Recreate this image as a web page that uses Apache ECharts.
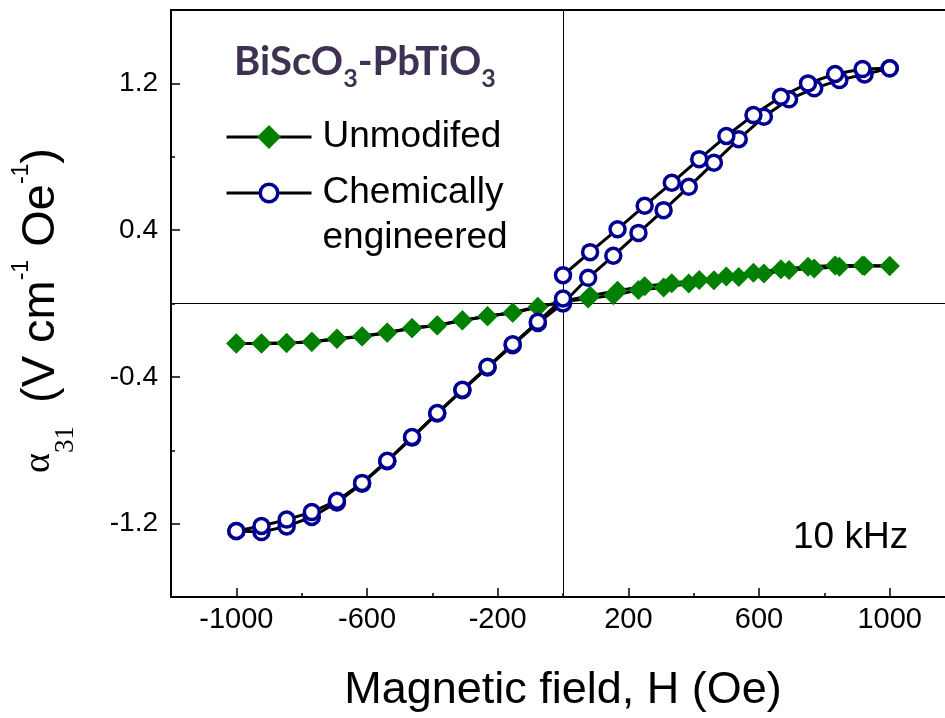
<!DOCTYPE html>
<html>
<head>
<meta charset="utf-8">
<script src="https://cdn.jsdelivr.net/npm/echarts@6/dist/echarts.min.js"></script>
<style>
  html, body { margin: 0; padding: 0; background: #fff; overflow: hidden; }
  /* the frame runs past the right edge of the window, as in the original figure */
  #chart { width: 960px; height: 718px; }
</style>
</head>
<body>
<div id="chart"></div>
<script>
// Field values (Oe) of each sweep segment
const hSweepUp = [-1000, -923, -846, -769, -692, -615, -538, -462, -385, -308, -231, -154, -77, 0,
    77, 154, 231, 308, 385, 462, 538, 615, 692, 769, 846, 923, 1000];
const hReturnPos = [1000, 917, 833, 750, 667, 583, 500, 417, 333, 250, 167, 83, 0];
const hReturnNeg = [0, -77, -154, -231, -308, -385, -462, -538, -615, -692, -769, -846, -923, -1000];

// alpha_31 (V cm^-1 Oe^-1), unmodified sample
const unmodUp = [-0.218, -0.218, -0.215, -0.209, -0.191, -0.178, -0.158, -0.133, -0.118, -0.091, -0.069, -0.049, -0.018, 0.009,
    0.027, 0.045, 0.073, 0.087, 0.109, 0.127, 0.145, 0.164, 0.182, 0.191, 0.2, 0.205, 0.205];
const unmodReturnPos = [0.205, 0.207, 0.207, 0.2, 0.187, 0.168, 0.147, 0.128, 0.11, 0.094, 0.069, 0.042, 0.012];
const unmodReturnNeg = [0.009, -0.02, -0.05, -0.07, -0.093, -0.12, -0.135, -0.16, -0.18, -0.193, -0.21, -0.216, -0.218, -0.218];

// alpha_31, chemically engineered sample
const chemUp = [-1.24, -1.246, -1.215, -1.164, -1.085, -0.982, -0.86, -0.731, -0.6, -0.473, -0.349, -0.227, -0.106, 0.0,
    0.14, 0.26, 0.385, 0.509, 0.636, 0.767, 0.896, 1.018, 1.113, 1.173, 1.218, 1.249, 1.282];
const chemReturnPos = [1.282, 1.278, 1.251, 1.2, 1.127, 1.027, 0.913, 0.787, 0.658, 0.533, 0.405, 0.28, 0.154];
const chemReturnNeg = [0.027, -0.1, -0.222, -0.345, -0.47, -0.597, -0.728, -0.857, -0.978, -1.075, -1.137, -1.178, -1.213, -1.24];

const xMajorTicks = [-1000, -600, -200, 200, 600, 1000];
const xMinorTicks = [-800, -400, 0, 400, 800];
const yMajorTicks = [-1.2, -0.4, 0.4, 1.2];
const yMinorTicks = [-0.8, 0, 0.8];

const zip = (xs, ys) => xs.map((x, i) => [x, ys[i]]);

const GREEN = '#008000';
const NAVY = '#000090';
const FONT = '"Liberation Sans", Arial, sans-serif';
const SERIF = '"Liberation Serif", serif';

const chart = echarts.init(document.getElementById('chart'));

const unmodSeries = (data, withZeroLines) => {
    const s = {
        name: 'Unmodifed',
        type: 'line',
        data: data,
        symbol: 'diamond',
        symbolSize: 20,
        itemStyle: {color: GREEN},
        lineStyle: {color: '#000', width: 3},
        z: 3
    };
    if (withZeroLines) {
        s.markLine = {
            silent: true,
            symbol: ['none', 'none'],
            label: {show: false},
            lineStyle: {color: '#000', width: 1, type: 'solid'},
            data: [{xAxis: 0}, {yAxis: 0}],
            z: 1
        };
    }
    return s;
};

const chemSeries = (data) => ({
    name: 'Chemically engineered',
    type: 'line',
    data: data,
    symbol: 'circle',
    symbolSize: 15,
    itemStyle: {color: '#fff', borderColor: NAVY, borderWidth: 3.5},
    lineStyle: {color: '#000', width: 3},
    z: 4
});

const legendText = {
    fontFamily: FONT,
    fontSize: 37,
    color: '#000',
    lineHeight: 45,
    padding: [0, 0, 0, 6]
};

const legendBase = {
    left: 225,
    padding: 0,
    itemWidth: 85,
    itemHeight: 24,
    lineStyle: {color: '#000', width: 3}
};

const option = {
    animation: false,
    backgroundColor: '#fff',
    grid: {left: 171, right: 5, top: 10, bottom: 121},
    title: {
        left: 229,
        top: 37,
        text: '{b|BiScO}{s|3}{b|-PbTiO}{s|3}',
        textStyle: {
            rich: {
                b: {fontFamily: 'Lato', fontWeight: 'bold', fontSize: 40, color: '#3f3151', lineHeight: 40, verticalAlign: 'top'},
                s: {fontFamily: 'Lato', fontWeight: 'bold', fontSize: 25, color: '#3f3151', lineHeight: 25, verticalAlign: 'top', padding: [24, 0, 0, 0]}
            }
        }
    },
    legend: [
        Object.assign({}, legendBase, {
            data: ['Unmodifed'],
            top: 114.5,
            itemHeight: 30,
            textStyle: legendText
        }),
        Object.assign({}, legendBase, {
            data: ['Chemically engineered'],
            top: 125.5,
            itemHeight: 22,
            itemStyle: {borderWidth: 3.5},
            formatter: () => '{e| }\n{t|Chemically}\n{t|engineered}',
            textStyle: Object.assign({}, legendText, {
                rich: {
                    e: {fontFamily: FONT, fontSize: 37, lineHeight: 45},
                    t: {fontFamily: FONT, fontSize: 37, lineHeight: 45, color: '#000'}
                }
            })
        })
    ],
    graphic: [{
        type: 'text',
        left: 793,
        top: 519,
        style: {text: '10 kHz', font: '37px ' + FONT, fill: '#000'}
    }],
    xAxis: [
        {
            type: 'value', min: -1200, max: 1200, position: 'bottom',
            name: 'Magnetic field, H (Oe)',
            nameLocation: 'middle',
            nameGap: 71,
            nameTextStyle: {fontFamily: FONT, fontSize: 45, color: '#000'},
            axisLine: {show: true, onZero: false, lineStyle: {color: '#000', width: 2}},
            axisTick: {show: true, inside: true, length: 9, customValues: xMajorTicks, lineStyle: {color: '#000', width: 1.5}},
            axisLabel: {customValues: xMajorTicks, margin: 8, fontFamily: FONT, fontSize: 29, color: '#000',
                formatter: (v) => String(v)},
            splitLine: {show: false}
        },
        {
            type: 'value', min: -1200, max: 1200, position: 'bottom',
            axisLine: {show: false, onZero: false},
            axisTick: {show: true, inside: true, length: 4, customValues: xMinorTicks, lineStyle: {color: '#000', width: 1.5}},
            axisLabel: {show: false},
            splitLine: {show: false}
        },
        {
            type: 'value', min: -1200, max: 1200, position: 'top',
            axisLine: {show: true, onZero: false, lineStyle: {color: '#000', width: 2}},
            axisTick: {show: false},
            axisLabel: {show: false},
            splitLine: {show: false}
        }
    ],
    yAxis: [
        {
            type: 'value', min: -1.6, max: 1.6, position: 'left',
            name: '{a|α}{s|31}{b| (V cm}{p|-1}{b| Oe}{p|-1}{c|)}',
            nameLocation: 'middle',
            nameRotate: 90,
            nameGap: 114,
            nameTextStyle: {
                rich: {
                    a: {fontFamily: SERIF, fontSize: 38, lineHeight: 38, verticalAlign: 'top', padding: [10, 0, 0, 0], color: '#000'},
                    s: {fontFamily: SERIF, fontSize: 27, lineHeight: 27, verticalAlign: 'top', padding: [42, 10, 0, 0], color: '#000'},
                    b: {fontFamily: FONT, fontSize: 47, lineHeight: 47, verticalAlign: 'top', padding: [8, 0, 0, 0], color: '#000'},
                    c: {fontFamily: FONT, fontSize: 47, lineHeight: 47, verticalAlign: 'top', padding: [8, 14, 0, 0], color: '#000'},
                    p: {fontFamily: FONT, fontSize: 23, lineHeight: 23, verticalAlign: 'top', padding: [0, 0, 0, 0], color: '#000'}
                }
            },
            axisLine: {show: true, onZero: false, lineStyle: {color: '#000', width: 2}},
            axisTick: {show: true, inside: true, length: 9, customValues: yMajorTicks, lineStyle: {color: '#000', width: 1.5}},
            axisLabel: {customValues: yMajorTicks, margin: 13, fontFamily: FONT, fontSize: 28, color: '#000',
                formatter: (v) => v.toFixed(1)},
            splitLine: {show: false}
        },
        {
            type: 'value', min: -1.6, max: 1.6, position: 'left',
            axisLine: {show: false, onZero: false},
            axisTick: {show: true, inside: true, length: 4, customValues: yMinorTicks, lineStyle: {color: '#000', width: 1.5}},
            axisLabel: {show: false},
            splitLine: {show: false}
        }
    ],
    series: [
        unmodSeries(zip(hSweepUp, unmodUp), true),
        unmodSeries(zip(hReturnPos, unmodReturnPos), false),
        unmodSeries(zip(hReturnNeg, unmodReturnNeg), false),
        chemSeries(zip(hSweepUp, chemUp)),
        chemSeries(zip(hReturnPos, chemReturnPos)),
        chemSeries(zip(hReturnNeg, chemReturnNeg))
    ]
};

chart.setOption(option);
</script>
</body>
</html>
